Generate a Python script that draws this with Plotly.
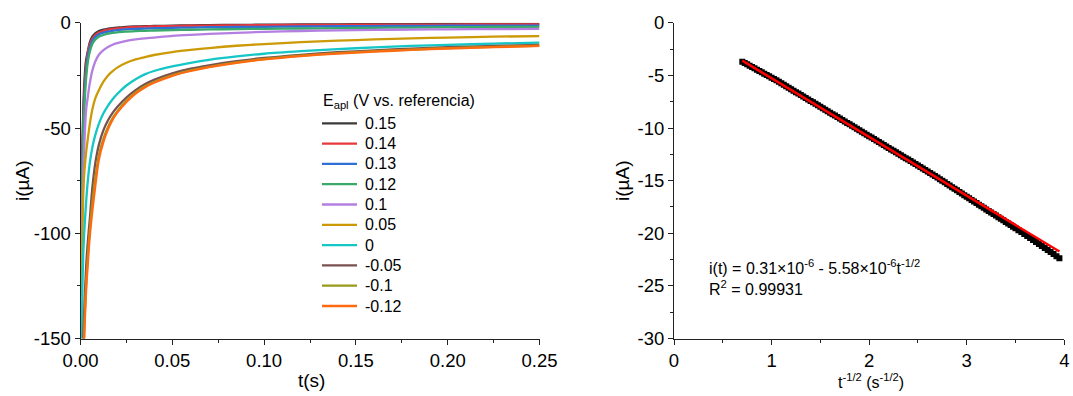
import plotly.graph_objects as go

# ---- Chronoamperometry transients (left panel) ----
t_s = [0.0005, 0.001, 0.0015, 0.002, 0.003, 0.004, 0.005, 0.0065, 0.008, 0.01,
       0.0125, 0.015, 0.0175, 0.02, 0.025, 0.03, 0.035, 0.04, 0.05, 0.06,
       0.07, 0.085, 0.1, 0.12, 0.14, 0.16, 0.18, 0.2, 0.225, 0.25]

potentials = ["0.15", "0.14", "0.13", "0.12", "0.1", "0.05", "0", "-0.05", "-0.1", "-0.12"]

i_015 = [-95, -60, -42, -30, -18, -13.5, -9.5, -6.5, -5.0, -3.9,
         -3.2, -2.8, -2.5, -2.3, -1.95, -1.75, -1.6, -1.5, -1.35, -1.2,
         -1.1, -1.0, -0.9, -0.8, -0.72, -0.66, -0.6, -0.56, -0.52, -0.5]
i_014 = [-100, -65, -46, -34, -21, -14, -10.5, -7.5, -5.8, -4.6,
         -3.8, -3.3, -2.9, -2.6, -2.25, -2.0, -1.85, -1.7, -1.55, -1.4,
         -1.3, -1.2, -1.1, -1.0, -0.95, -0.9, -0.85, -0.82, -0.8, -0.78]
i_013 = [-105, -70, -50, -38, -24, -16, -12, -8.6, -6.8, -5.5,
         -4.7, -4.2, -3.8, -3.5, -3.1, -2.9, -2.75, -2.6, -2.4, -2.25,
         -2.1, -2.0, -1.9, -1.75, -1.65, -1.55, -1.5, -1.4, -1.35, -1.3]
i_012 = [-110, -75, -55, -42, -27, -18.5, -14, -10, -8.0, -6.6,
         -5.8, -5.2, -4.8, -4.5, -4.2, -3.95, -3.8, -3.65, -3.45, -3.3,
         -3.15, -3.0, -2.85, -2.7, -2.55, -2.4, -2.25, -2.1, -2.0, -1.9]
i_010 = [-120, -90, -72, -60, -42, -35, -29, -22.5, -18.5, -15.2,
         -13.0, -11.5, -10.4, -9.7, -8.6, -7.9, -7.4, -7.0, -6.2, -5.7,
         -5.3, -4.8, -4.3, -3.9, -3.6, -3.4, -3.2, -3.1, -3.0, -2.9]
i_005 = [-130, -100, -82, -72, -62, -55, -48.5, -41, -36, -32,
         -28, -25, -23, -21.3, -19, -17.4, -16.3, -15.3, -13.9, -12.9,
         -12.0, -10.9, -10.1, -9.2, -8.5, -7.9, -7.4, -7.0, -6.6, -6.3]
i_000 = [-160, -128, -110, -100, -86, -75, -67, -59, -53.5, -48,
         -43, -39.3, -36.3, -33.8, -29.8, -26.8, -24.5, -22.9, -20.7, -19.0,
         -17.6, -16.0, -14.7, -13.5, -12.5, -11.7, -11.0, -10.5, -9.9, -9.4]
i_m005 = [-240, -185, -152, -138, -117, -104, -94, -78, -67, -58,
          -51, -46.3, -42.8, -40.0, -35.5, -32.0, -29.2, -27.1, -24.0, -21.8,
          -20.2, -18.2, -16.7, -15.2, -14.0, -13.1, -12.3, -11.6, -11.0, -10.5]
i_m010 = [-255, -196, -166, -147, -125, -111, -99, -85, -74, -63,
          -55, -49.5, -45.3, -42.1, -37.0, -33.1, -30.2, -28.1, -24.9, -22.6,
          -20.9, -18.8, -17.2, -15.6, -14.4, -13.5, -12.7, -12.0, -11.4, -10.9]
i_m012 = [-260, -200, -170, -150, -128, -114, -102, -89, -78, -65,
          -56.5, -50.5, -46.0, -42.7, -37.6, -33.6, -30.7, -28.5, -25.2, -22.9,
          -21.1, -19.0, -17.4, -15.8, -14.6, -13.7, -12.9, -12.2, -11.6, -11.0]

currents = [i_015, i_014, i_013, i_012, i_010, i_005, i_000, i_m005, i_m010, i_m012]
colors = ["#3a3a3a", "#e8383d", "#2f6fd6", "#3aaa6a", "#b47fe0",
          "#cc9a06", "#14c6c6", "#7a4f4f", "#999a18", "#ff6a10"]

# ---- Cottrell plot (right panel) ----
inv_sqrt_t = [0.700, 0.725, 0.750, 0.775, 0.800, 0.825, 0.850, 0.875, 0.900, 0.925,
              0.950, 0.975, 1.000, 1.025, 1.050, 1.075, 1.100, 1.125, 1.150, 1.175,
              1.200, 1.225, 1.250, 1.275, 1.300, 1.325, 1.350, 1.375, 1.400, 1.425,
              1.450, 1.475, 1.500, 1.525, 1.550, 1.575, 1.600, 1.625, 1.650, 1.675,
              1.700, 1.725, 1.750, 1.775, 1.800, 1.825, 1.850, 1.875, 1.900, 1.925,
              1.950, 1.975, 2.000, 2.025, 2.050, 2.075, 2.100, 2.125, 2.150, 2.175,
              2.200, 2.225, 2.250, 2.275, 2.300, 2.325, 2.350, 2.375, 2.400, 2.425,
              2.450, 2.475, 2.500, 2.525, 2.550, 2.575, 2.600, 2.625, 2.650, 2.675,
              2.700, 2.725, 2.750, 2.775, 2.800, 2.825, 2.850, 2.875, 2.900, 2.925,
              2.950, 2.975, 3.000, 3.025, 3.050, 3.075, 3.100, 3.125, 3.150, 3.175,
              3.200, 3.225, 3.250, 3.275, 3.300, 3.325, 3.350, 3.375, 3.400, 3.425,
              3.450, 3.475, 3.500, 3.530, 3.560, 3.590, 3.620, 3.650, 3.680, 3.710,
              3.740, 3.770, 3.800, 3.830, 3.860, 3.890, 3.920, 3.950]
i_cottrell = [-3.70, -3.82, -3.95, -4.07, -4.20, -4.32, -4.45, -4.58, -4.71, -4.83,
              -4.96, -5.08, -5.21, -5.34, -5.47, -5.61, -5.75, -5.89, -6.03, -6.17,
              -6.31, -6.45, -6.59, -6.72, -6.86, -7.00, -7.14, -7.28, -7.42, -7.56,
              -7.70, -7.84, -7.98, -8.12, -8.26, -8.40, -8.54, -8.68, -8.82, -8.96,
              -9.10, -9.23, -9.37, -9.51, -9.65, -9.79, -9.93, -10.07, -10.21, -10.35,
              -10.49, -10.63, -10.77, -10.91, -11.05, -11.19, -11.33, -11.47, -11.61, -11.75,
              -11.89, -12.03, -12.17, -12.31, -12.45, -12.58, -12.72, -12.86, -13.00, -13.14,
              -13.28, -13.42, -13.56, -13.70, -13.84, -13.98, -14.13, -14.27, -14.42, -14.56,
              -14.71, -14.86, -15.01, -15.16, -15.31, -15.46, -15.62, -15.77, -15.92, -16.07,
              -16.23, -16.38, -16.53, -16.68, -16.83, -16.98, -17.13, -17.28, -17.43, -17.58,
              -17.73, -17.88, -18.03, -18.17, -18.32, -18.47, -18.62, -18.77, -18.92, -19.07,
              -19.22, -19.37, -19.52, -19.71, -19.89, -20.08, -20.27, -20.46, -20.65, -20.83,
              -21.02, -21.21, -21.40, -21.59, -21.79, -21.98, -22.18, -22.38]

# linear fit coefficients (µA): i = a + b * t^-1/2
fit_a = 0.31
fit_b = -5.58
fit_x = [inv_sqrt_t[0], inv_sqrt_t[-1]]
fit_y = [fit_a + fit_b * x for x in fit_x]

# tick labels (plain hyphen as minus sign)
x1_tickvals = [0, 0.05, 0.10, 0.15, 0.20, 0.25]
x1_ticktext = ["0.00", "0.05", "0.10", "0.15", "0.20", "0.25"]
y1_tickvals = [-150, -100, -50, 0]
y1_ticktext = ["-150", "-100", "-50", "0"]
x2_tickvals = [0, 1, 2, 3, 4]
x2_ticktext = ["0", "1", "2", "3", "4"]
y2_tickvals = [-30, -25, -20, -15, -10, -5, 0]
y2_ticktext = ["-30", "-25", "-20", "-15", "-10", "-5", "0"]

FONT = "Arial, Liberation Sans, sans-serif"
W, H = 1073, 396
TICK_FS = 18.5


def px_x(p):
    return p / W


def px_y(p):
    return 1 - p / H


fig = go.Figure()

for name, ys, c in zip(potentials, currents, colors):
    fig.add_trace(go.Scatter(
        x=t_s, y=ys, mode="lines", name=name,
        line=dict(color=c, width=2.3, shape="spline", smoothing=0.8),
        xaxis="x", yaxis="y", showlegend=False))

fig.add_trace(go.Scatter(
    x=inv_sqrt_t, y=i_cottrell, mode="markers", showlegend=False,
    marker=dict(symbol="square", size=6, color="black", line=dict(width=0)),
    xaxis="x2", yaxis="y2"))
fig.add_trace(go.Scatter(
    x=fit_x, y=fit_y, mode="lines", showlegend=False,
    line=dict(color="#ff0000", width=2.5),
    xaxis="x2", yaxis="y2"))

axis_common = dict(
    showgrid=False, zeroline=False, showline=True, linecolor="#222", linewidth=1,
    ticks="outside", ticklen=5, tickcolor="#222", tickwidth=1, automargin=False,
    tickfont=dict(family=FONT, size=TICK_FS, color="black"), mirror=False,
    tickmode="array")

ydom = [px_y(338.5), px_y(22.8)]

# legend block: title, line samples and labels
LEG_X0, LEG_X1, LEG_TX = 322, 357, 363
LEG_Y0, LEG_DY = 123.3, 20.3
shapes = []
annotations = [
    dict(text="E<sub>apl</sub> (V vs. referencia)", x=px_x(321), y=px_y(101.5),
         xref="paper", yref="paper", xanchor="left", yanchor="middle",
         showarrow=False, font=dict(family=FONT, size=16)),
]
for k, (name, c) in enumerate(zip(potentials, colors)):
    yk = LEG_Y0 + k * LEG_DY
    shapes.append(dict(type="line", xref="paper", yref="paper",
                       x0=px_x(LEG_X0), x1=px_x(LEG_X1), y0=px_y(yk), y1=px_y(yk),
                       line=dict(color=c, width=2.3)))
    annotations.append(dict(text=name, x=px_x(LEG_TX), y=px_y(yk),
                            xref="paper", yref="paper", xanchor="left",
                            yanchor="middle", showarrow=False,
                            font=dict(family=FONT, size=16)))

annotations += [
    dict(text="t(s)", x=px_x(311), y=px_y(380), xref="paper", yref="paper",
         xanchor="center", yanchor="middle",
         showarrow=False, font=dict(family=FONT, size=19)),
    dict(text="i(µA)", x=px_x(22), y=px_y(181), xref="paper", yref="paper",
         xanchor="center", yanchor="middle",
         showarrow=False, textangle=-90, font=dict(family=FONT, size=19)),
    dict(text="t<sup>-1/2</sup> (s<sup>-1/2</sup>)", x=px_x(871), y=px_y(381),
         xref="paper", yref="paper", xanchor="center", yanchor="middle",
         showarrow=False, font=dict(family=FONT, size=16)),
    dict(text="i(µA)", x=px_x(622), y=px_y(181), xref="paper", yref="paper",
         xanchor="center", yanchor="middle",
         showarrow=False, textangle=-90, font=dict(family=FONT, size=19)),
    dict(text="i(t) = 0.31×10<sup>-6</sup> - 5.58×10<sup>-6</sup>t<sup>-1/2</sup>",
         x=px_x(707), y=px_y(267), xref="paper", yref="paper", xanchor="left",
         yanchor="middle", showarrow=False, font=dict(family=FONT, size=16)),
    dict(text="R<sup>2</sup> = 0.99931",
         x=px_x(707), y=px_y(288), xref="paper", yref="paper", xanchor="left",
         yanchor="middle", showarrow=False, font=dict(family=FONT, size=16)),
]

fig.update_layout(
    width=W, height=H,
    margin=dict(l=0, r=0, t=0, b=0, autoexpand=False),
    paper_bgcolor="white", plot_bgcolor="white",
    font=dict(family=FONT, color="black"),
    showlegend=False,
    xaxis=dict(domain=[px_x(80.5), px_x(539.5)], range=[0, 0.25], anchor="y",
               tickvals=x1_tickvals, ticktext=x1_ticktext,
               minor=dict(dtick=0.025, ticks="outside", ticklen=3, tickcolor="#222"),
               **axis_common),
    yaxis=dict(domain=ydom, range=[-150, 0], anchor="x",
               tickvals=y1_tickvals, ticktext=y1_ticktext,
               minor=dict(dtick=25, ticks="outside", ticklen=3, tickcolor="#222"),
               **axis_common),
    xaxis2=dict(domain=[px_x(674), px_x(1064.3)], range=[0, 4], anchor="y2",
                tickvals=x2_tickvals, ticktext=x2_ticktext,
                minor=dict(dtick=0.5, ticks="outside", ticklen=3, tickcolor="#222"),
                **axis_common),
    yaxis2=dict(domain=ydom, range=[-30, 0], anchor="x2",
                tickvals=y2_tickvals, ticktext=y2_ticktext,
                minor=dict(dtick=2.5, ticks="outside", ticklen=3, tickcolor="#222"),
                **axis_common),
    shapes=shapes,
    annotations=annotations,
)

fig.write_html("out.html")
